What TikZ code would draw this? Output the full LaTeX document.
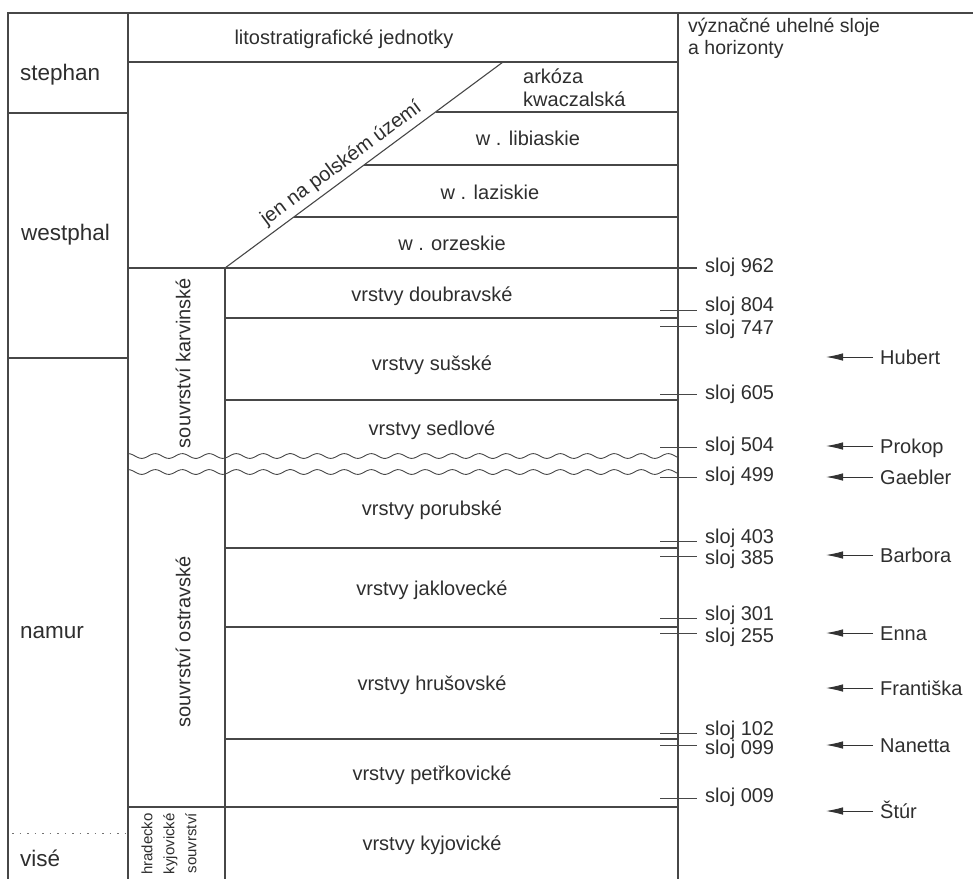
\documentclass[tikz,border=0pt]{standalone}
\usepackage{fontspec}
\setmainfont{Liberation Sans}
\usetikzlibrary{arrows.meta}
\begin{document}
\begin{tikzpicture}[x=1pt,y=-1pt,
  ln/.style={line width=1.1pt, draw=black!72},
  tk/.style={line width=0.9pt, draw=black!72},
  arr/.style={line width=0.9pt, draw=black!80, -{Latex[length=17pt,width=7.5pt]}},
  txt/.style={font=\fontsize{20}{23}\selectfont, text=black!82, inner sep=0pt},
  lbl/.style={txt, text height=14.5pt, text depth=0pt},
  lw/.style={lbl, anchor=west},
  era/.style={txt, font=\fontsize{22.5}{26}\selectfont, text height=16pt, text depth=0pt, anchor=west},
  rot/.style={txt, rotate=90}]
\useasboundingbox (0,0) rectangle (973,879);
\clip (0,0) rectangle (973,879);
% frame
\draw[ln] (973,13) -- (8,13) -- (8,879);
\draw[ln] (128,13) -- (128,879);
\draw[ln] (678,13) -- (678,879);
\draw[ln] (225,268) -- (225,879);
\draw[ln] (128,62) -- (678,62);
\draw[ln] (8,113) -- (128,113);
\draw[ln] (8,358) -- (128,358);
\draw[line width=1pt, black!55, dash pattern=on 1.5pt off 6pt] (12,833) -- (128,833);
% diagonal (Polish units)
\coordinate (d0) at (225,268);
\coordinate (d1) at (503,62);
\draw[ln] (d0) -- (d1);
\path (d0) -- (d1) node[pos=0.45, sloped, above=5pt, txt] (polsko) {jen na polském území};
\draw[ln] (435.5,112) -- (678,112);
\draw[ln] (364,165) -- (678,165);
\draw[ln] (293.8,217) -- (678,217);
% layer boundaries
\draw[ln] (128,268) -- (697,268);
\foreach \yy in {318,400,548,627,739} \draw[ln] (225,\yy) -- (678,\yy);
\draw[ln] (128,807) -- (678,807);
% unconformities
\draw[line width=0.9pt, draw=black!72] plot[domain=128:678, samples=240, smooth] (\x, {456+2.4*sin(\x*13.3333)});
\draw[line width=0.9pt, draw=black!72] plot[domain=128:678, samples=240, smooth] (\x, {472+2.4*sin(\x*13.3333)});
% ticks
\foreach \yy in {310,326,394,447,477,541,556,618,633,733,745,798} \draw[tk] (660,\yy) -- (697,\yy);
% left column
\node[era] (st) at (20,72) {stephan};
\node[era] (we) at (21,232) {westphal};
\node[era] (na) at (20,630) {namur};
\node[era] (vi) at (20,858) {visé};
% header
\node[lbl] (h1) at (344,37) {litostratigrafické jednotky};
\node[txt, anchor=north west, align=left, font=\fontsize{19.5}{22}\selectfont] (h2) at (688,18) {význačné uhelné sloje\\a horizonty};
% Polish units
\node[txt, anchor=west, align=left] (ark) at (523,88) {arkóza\\kwaczalská};
\node[lbl] (lib) at (528,138) {w . libiaskie};
\node[lbl] (laz) at (490,192) {w . laziskie};
\node[lbl] (orz) at (452,243) {w . orzeskie};
% Czech units
\node[lbl] (dou) at (432,294) {vrstvy doubravské};
\node[lbl] (sus) at (432,363) {vrstvy sušské};
\node[lbl] (sed) at (432,428) {vrstvy sedlové};
\node[lbl] (por) at (432,508) {vrstvy porubské};
\node[lbl] (jak) at (432,588) {vrstvy jaklovecké};
\node[lbl] (hru) at (432,683) {vrstvy hrušovské};
\node[lbl] (pet) at (432,773) {vrstvy petřkovické};
\node[lbl] (kyj) at (432,843) {vrstvy kyjovické};
% formations
\node[rot] (kar) at (183,363) {souvrství karvinské};
\node[rot] (ost) at (183,642) {souvrství ostravské};
\node[txt, rotate=90, anchor=east, align=right, font=\fontsize{15}{22}\selectfont] (hk) at (169,813) {hradecko\\kyjovické\\souvrství};
% seams
\node[lw] (s962) at (705,265) {sloj 962};
\node[lw] (s804) at (705,304) {sloj 804};
\node[lw] (s747) at (705,327) {sloj 747};
\node[lw] (s605) at (705,392) {sloj 605};
\node[lw] (s504) at (705,444) {sloj 504};
\node[lw] (s499) at (705,474) {sloj 499};
\node[lw] (s403) at (705,536) {sloj 403};
\node[lw] (s385) at (705,557) {sloj 385};
\node[lw] (s301) at (705,613) {sloj 301};
\node[lw] (s255) at (705,635) {sloj 255};
\node[lw] (s102) at (705,728) {sloj 102};
\node[lw] (s099) at (705,747) {sloj 099};
\node[lw] (s009) at (705,795) {sloj 009};
% horizons
\foreach \nm/\yy/\tx in {hub/357/Hubert, pro/446/Prokop, gae/477/Gaebler, bar/555/Barbora, enn/633/Enna, fra/688/Františka, nan/745/Nanetta, stu/811/Štúr} {
  \node[lw] (\nm) at (880,\yy) {\tx};
  \coordinate (\nm T) at (826,\yy);
  \draw[arr] ([xshift=-7pt]\nm.west) -- (\nm T);
}
\end{tikzpicture}
\end{document}
